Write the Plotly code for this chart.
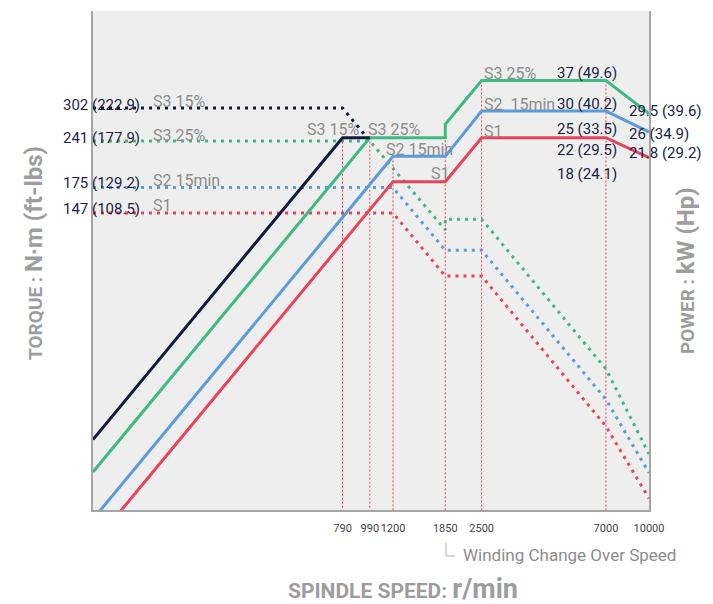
"""Spindle output chart: torque (dotted) and power (solid) vs. spindle speed."""

import math

import plotly.graph_objects as go

# ---- data -------------------------------------------------------------------
# torque curves, N·m (dotted)
s3_15_torque_speed = [100, 790, 990]
s3_15_torque = [302, 302, 241]
s3_25_torque_speed = [100, 990, 1850, 1850, 2500, 7000, 10000]
s3_25_torque = [241, 241, 131, 141, 141, 50.5, 28.2]
s2_torque_speed = [100, 1200, 1850, 2500, 7000, 10000]
s2_torque = [175, 175, 114, 114, 41, 24.8]
s1_torque_speed = [100, 1200, 1850, 2500, 7000, 10000]
s1_torque = [147, 147, 95.5, 95.5, 34.1, 20.8]

# power curves, kW (solid)
s3_15_power_speed = [100, 790, 990]
s3_15_power = [3.16, 25, 25]
s3_25_power_speed = [100, 990, 1850, 1850, 2500, 7000, 10000]
s3_25_power = [2.53, 25, 25, 27.4, 37, 37, 29.5]
s2_power_speed = [100, 1200, 1850, 2500, 7000, 10000]
s2_power = [1.83, 22, 22, 30, 30, 26]
s1_power_speed = [100, 1200, 1850, 2500, 7000, 10000]
s1_power = [1.54, 18.5, 18.5, 25, 25, 21.8]

# speed markers (vertical guides) and the power at their top
guide_speed = [790, 990, 1200, 1850, 2500, 7000]
guide_top_power = [25, 25, 22, 27.4, 37, 37]

tick_speeds = [790, 990, 1200, 1850, 2500, 7000, 10000]

torque_labels = ["302 (222.9)", "241 (177.9)", "175 (129.2)", "147 (108.5)"]
torque_names = ["S3 15%", "S3 25%", "S2 15min", "S1"]
power_labels = ["37 (49.6)", "30 (40.2)", "25 (33.5)", "22 (29.5)", "18 (24.1)"]
end_power_labels = ["29.5 (39.6)", "26 (34.9)", "21.8 (29.2)"]

# ---- style ------------------------------------------------------------------
FONT = "Roboto"
NAVY = "#141a3c"
GREEN = "#3fb984"
BLUE = "#5b9bd8"
RED = "#e8435a"
GRAY_TXT = "#8c8c8c"
DARK_TXT = "#1b1f45"
AXIS_GRAY = "#a5a5a5"
TITLE_GRAY = "#9d9d9d"

# page is drawn with the browser's 8px body margin
OFF = 8
W, H = 713 - OFF, 604 - OFF
L, R, T, B = 93, 649, 11, 510  # plot area, page pixels


def paper(px, py):
    return (px - L) / (R - L), (B - py) / (B - T)


fig = go.Figure()

# vertical dotted guides
gx, gy = [], []
for s, p in zip(guide_speed, guide_top_power):
    gx += [s, s, None]
    gy += [p, 0.5, None]
fig.add_trace(go.Scatter(
    x=gx, y=gy, yaxis="y2", mode="lines",
    line={"color": RED, "width": 1, "dash": "2px,2px"},
    hoverinfo="skip", showlegend=False,
))

dots = "3px,5px"
for xs, ys, color in [
    (s1_torque_speed, s1_torque, RED),
    (s2_torque_speed, s2_torque, BLUE),
    (s3_25_torque_speed, s3_25_torque, GREEN),
    (s3_15_torque_speed, s3_15_torque, NAVY),
]:
    fig.add_trace(go.Scatter(
        x=xs, y=ys, mode="lines",
        line={"color": color, "width": 3, "dash": dots},
        showlegend=False,
    ))

for xs, ys, color in [
    (s1_power_speed, s1_power, RED),
    (s2_power_speed, s2_power, BLUE),
    (s3_25_power_speed, s3_25_power, GREEN),
    (s3_15_power_speed, s3_15_power, NAVY),
]:
    fig.add_trace(go.Scatter(
        x=xs, y=ys, yaxis="y2", mode="lines",
        line={"color": color, "width": 3},
        showlegend=False,
    ))

ann = []


def label(text, px, py, color, size, anchor="left", angle=0):
    x, y = paper(px, py)
    ann.append(dict(
        text=text, x=x, y=y, xref="paper", yref="paper",
        xanchor=anchor, yanchor="middle", showarrow=False, textangle=angle,
        font={"family": FONT, "size": size, "color": color},
    ))


# left torque values and names
for txt, name, py in zip(torque_labels, torque_names, [105, 138, 183, 209]):
    label(txt, 142, py, DARK_TXT, 15, "right")
    label(name, 151, py - 3, GRAY_TXT, 16)

# mid names
label("S3 15%", 361, 129, GRAY_TXT, 16, "right")
label("S3 25%", 366, 129, GRAY_TXT, 16)
label("S2 15min", 384, 150, GRAY_TXT, 16)
label("S1", 429, 173, GRAY_TXT, 16)

# right names
label("S3 25%", 482, 73, GRAY_TXT, 16)
label("S2  15min", 482, 105, GRAY_TXT, 16)
label("S1", 482, 131, GRAY_TXT, 16)

for txt, py in zip(power_labels, [73, 104, 129, 150, 174]):
    label(txt, 555, py, DARK_TXT, 15)
for txt, py in zip(end_power_labels, [111, 134, 153]):
    label(txt, 627, py, DARK_TXT, 15)

label("Winding Change Over Speed", 461, 555, GRAY_TXT, 17)

# axis titles
label("<b>SPINDLE SPEED:</b> <b><span style='font-size:27px'>r/min</span></b>",
      403, 589, TITLE_GRAY, 21, "center")
label("<b>TORQUE : </b><b><span style='font-size:24px'>N·m (ft-lbs)</span></b>",
      34, 253, TITLE_GRAY, 19, "center", -90)
label("<b>POWER : </b><b><span style='font-size:24px'>kW (Hp)</span></b>",
      686, 271, TITLE_GRAY, 19, "center", -90)

# winding-change bracket
fig.add_shape(
    type="path", xref="paper", yref="paper",
    path="M {0},{1} L {0},{2} L {3},{2}".format(
        (446 - L) / (R - L), (B - 543) / (B - T),
        (B - 556) / (B - T), (455 - L) / (R - L),
    ),
    line={"color": "#b0b0b0", "width": 1},
)

torque_top = 2.7687
torque_bottom = 1.2836
power_top = math.log10(25) + (137.7 - T) / 336
power_bottom = power_top - (torque_top - torque_bottom)

fig.update_layout(
    width=W, height=H,
    margin={"l": L - OFF, "r": 713 - R, "t": T - OFF, "b": 604 - B, "pad": 0},
    paper_bgcolor="white",
    plot_bgcolor="#eeeeee",
    showlegend=False,
    annotations=ann,
    font={"family": FONT},
    xaxis={
        "type": "log", "range": [2, 4],
        "tickvals": tick_speeds, "ticktext": [str(v) for v in tick_speeds],
        "tickfont": {"family": FONT, "size": 11, "color": "#444444"},
        "tickangle": 0, "ticklabelstandoff": 7,
        "ticks": "", "showgrid": False, "zeroline": False,
        "showline": True, "linecolor": AXIS_GRAY, "linewidth": 2,
    },
    yaxis={
        "type": "log", "range": [torque_bottom, torque_top],
        "showticklabels": False, "ticks": "", "showgrid": False,
        "zeroline": False, "showline": True, "linecolor": AXIS_GRAY,
        "linewidth": 2,
    },
    yaxis2={
        "type": "log", "range": [power_bottom, power_top],
        "overlaying": "y", "side": "right",
        "showticklabels": False, "ticks": "", "showgrid": False,
        "zeroline": False, "showline": True, "linecolor": AXIS_GRAY,
        "linewidth": 2,
    },
)

fig.write_html("out.html")
